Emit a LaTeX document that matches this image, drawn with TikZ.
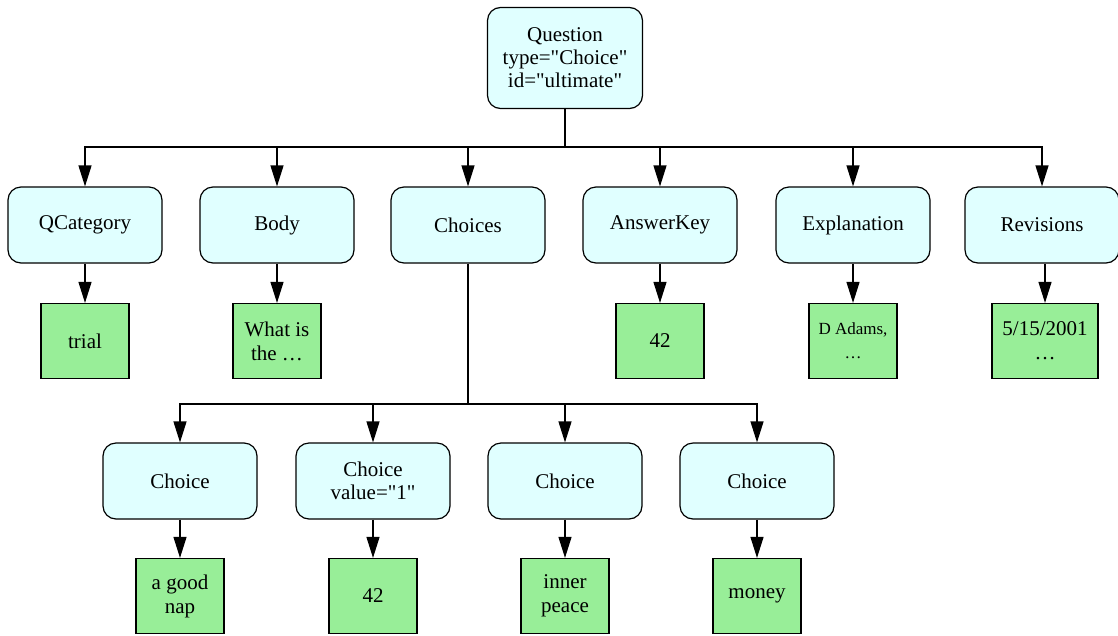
\documentclass[tikz,border=0pt]{standalone}
\usepackage{fontspec}
\setmainfont{Liberation Serif}[Ligatures=TeXOff]
\usetikzlibrary{arrows.meta}
\definecolor{elemfill}{HTML}{E0FFFF}
\definecolor{leaffill}{HTML}{98EE98}
\begin{document}
\begin{tikzpicture}[x=1pt,y=-1pt,
  elem/.style={draw=black, line width=1.2pt, fill=elemfill, rounded corners=13pt,
    minimum width=154pt, minimum height=76pt, inner sep=0pt, align=center,
    font=\fontsize{21}{23}\selectfont},
  leaf/.style={draw=black, line width=1.2pt, fill=leaffill,
    minimum width=88pt, minimum height=75pt, inner sep=0pt, align=center,
    font=\fontsize{21}{24}\selectfont},
  conn/.style={line width=1.2pt, -{Triangle[length=21pt,width=13pt]}},
  plain/.style={line width=1.2pt}]
\useasboundingbox (0,0) rectangle (1118,635);
% root
\node[elem, minimum width=155pt, minimum height=101pt] (q) at (565,58) {Question\\type="Choice"\\id="ultimate"};
% level 1
\node[elem] (qc) at (85,225) {QCategory};
\node[elem] (bo) at (277,225) {Body};
\node[elem] (ch) at (468,225) {Choices};
\node[elem] (ak) at (660,225) {AnswerKey};
\node[elem] (ex) at (853,225) {Explanation};
\node[elem] (re) at (1042,225) {Revisions};
% leaves level 1
\node[leaf] (qcv) at (85,341) {trial};
\node[leaf] (bov) at (277,341) {What is\\the \dots};
\node[leaf] (akv) at (660,341) {42};
\node[leaf, font=\fontsize{17}{24}\selectfont] (exv) at (853,341) {D Adams,\\\dots};
\node[leaf, minimum width=106pt] (rev) at (1045,341) {5/15/2001\\\dots};
% level 2
\node[elem] (c1) at (180,481) {Choice};
\node[elem] (c2) at (373,481) {Choice\\value="1"};
\node[elem] (c3) at (565,481) {Choice};
\node[elem] (c4) at (757,481) {Choice};
\node[leaf] (c1v) at (180,596) {a good\\nap};
\node[leaf] (c2v) at (373,596) {42};
\node[leaf] (c3v) at (565,596) {inner\\peace};
\node[leaf] (c4v) at (757,596) {money};
% buses
\coordinate (bus1) at (566,147);
\coordinate (bus2) at (468,404);
\draw[plain] (q.south) -- (q.south |- bus1);
\foreach \n in {qc,bo,ch,ak,ex,re}
  \draw[conn] (q.south |- bus1) -| (\n.north);
\draw[plain] (ch.south) -- (bus2);
\foreach \n in {c1,c2,c3,c4}
  \draw[conn] (bus2) -| (\n.north);
% value arrows
\draw[conn] (qc) -- (qcv);
\draw[conn] (bo) -- (bov);
\draw[conn] (ak) -- (akv);
\draw[conn] (ex) -- (exv);
\draw[conn] (re.south -| rev) -- (rev);
\draw[conn] (c1) -- (c1v);
\draw[conn] (c2) -- (c2v);
\draw[conn] (c3) -- (c3v);
\draw[conn] (c4) -- (c4v);
\end{tikzpicture}
\end{document}
